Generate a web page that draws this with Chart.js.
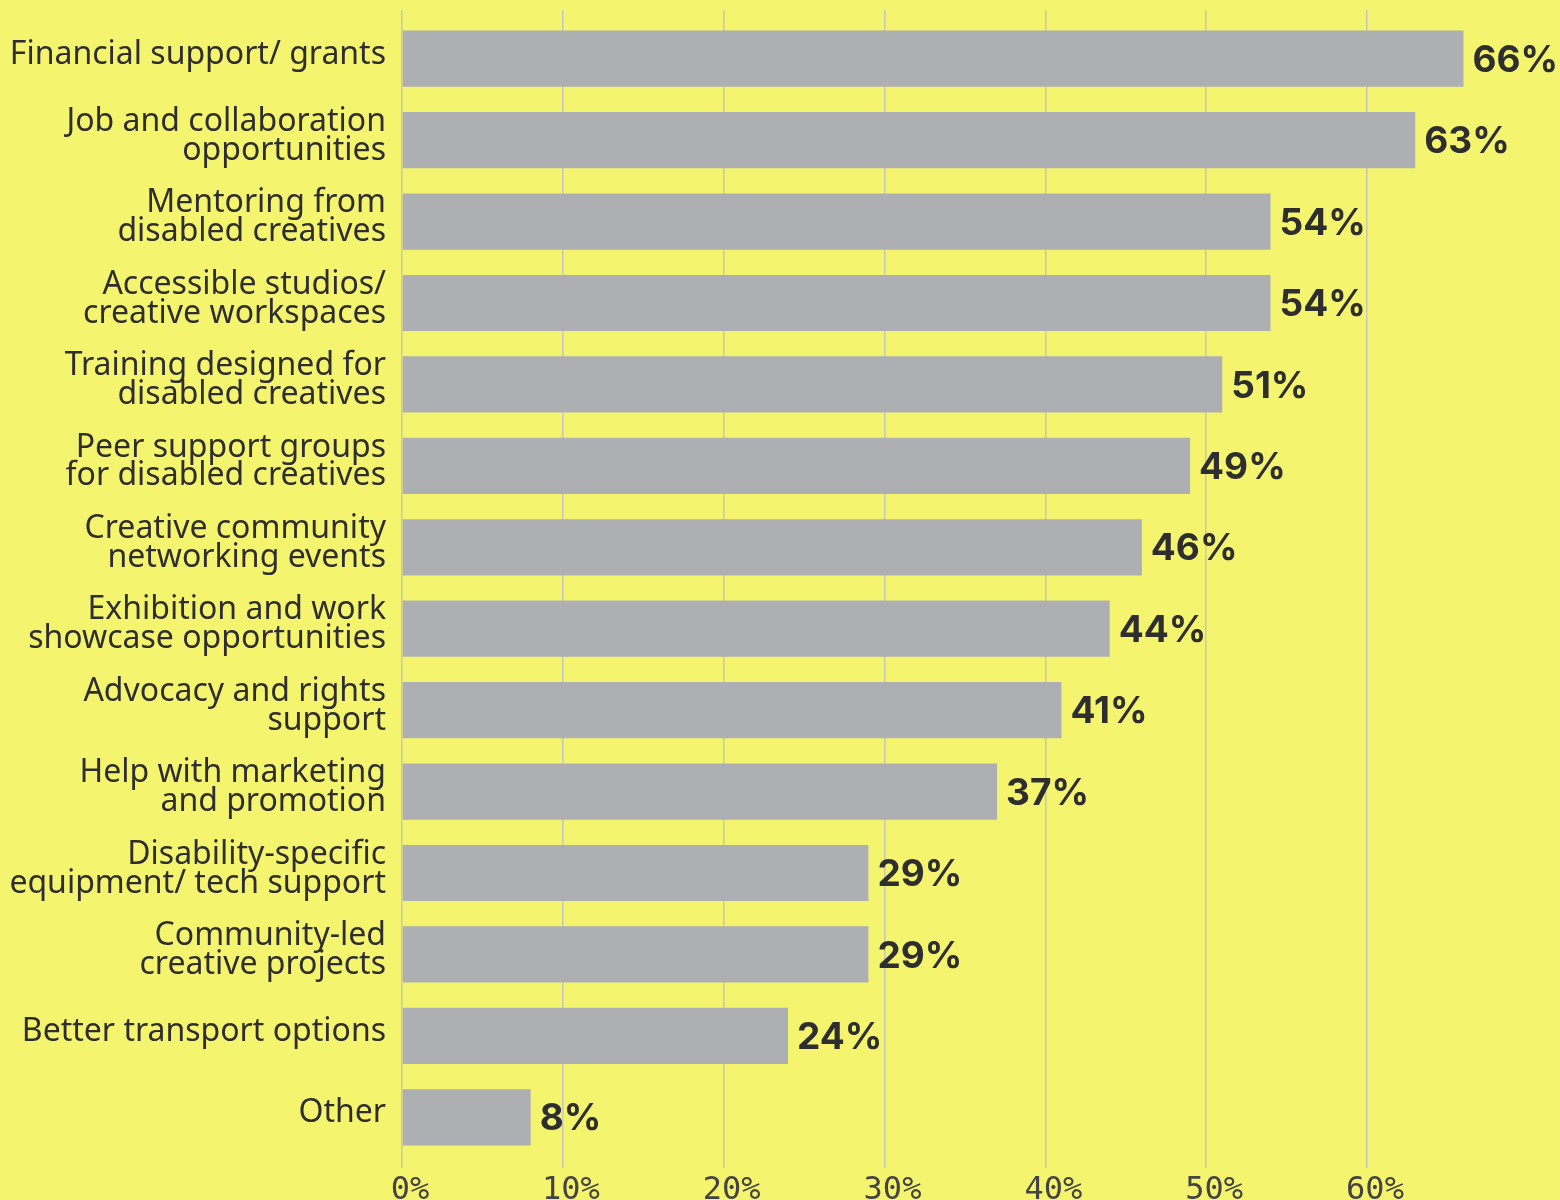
<!DOCTYPE html>
<html>
<head>
<meta charset="utf-8">
<script src="https://cdn.jsdelivr.net/npm/chart.js@4/dist/chart.umd.min.js"></script>
<style>
	html, body { margin: 0; padding: 0; background: #f4f46f; }
	#wrap { width: 1560px; height: 1200px; }
</style>
</head>
<body>
<div id="wrap"><canvas id="supportChart"></canvas></div>
<script>
// survey answers, share of respondents (%)
const categories = [
	"Financial support/ grants",
	["Job and collaboration", "opportunities"],
	["Mentoring from", "disabled creatives"],
	["Accessible studios/", "creative workspaces"],
	["Training designed for", "disabled creatives"],
	["Peer support groups", "for disabled creatives"],
	["Creative community", "networking events"],
	["Exhibition and work", "showcase opportunities"],
	["Advocacy and rights", "support"],
	["Help with marketing", "and promotion"],
	["Disability-specific", "equipment/ tech support"],
	["Community-led", "creative projects"],
	"Better transport options",
	"Other",
];
const values = [66, 63, 54, 54, 51, 49, 46, 44, 41, 37, 29, 29, 24, 8];
const tickValues = [0, 10, 20, 30, 40, 50, 60];

const textColor = "#2e2e2e";
const gridColor = "#c6c6bd";

// writes "66%" etc. just past the end of each bar
const valueLabels = {
	id: "valueLabels",
	afterDatasetsDraw(chart) {
		const ctx = chart.ctx;
		const meta = chart.getDatasetMeta(0);
		ctx.save();
		ctx.font = "bold 37px Inter, 'Noto Sans', sans-serif";
		ctx.fillStyle = textColor;
		ctx.textAlign = "left";
		ctx.textBaseline = "middle";
		meta.data.forEach((bar, i) => {
			ctx.fillText(values[i] + "%", bar.x + 9, bar.y + 2);
		});
		ctx.restore();
	},
};

const ctx = document.getElementById("supportChart").getContext("2d");
new Chart(ctx, {
	type: "bar",
	data: {
		labels: categories,
		datasets: [
			{
				data: values,
				backgroundColor: "#aeafb2",
				borderWidth: 0,
				barPercentage: 0.69,
				categoryPercentage: 1,
			},
		],
	},
	options: {
		indexAxis: "y",
		responsive: true,
		maintainAspectRatio: false,
		animation: false,
		layout: { padding: 0 },
		plugins: {
			legend: { display: false },
			tooltip: { enabled: false },
		},
		scales: {
			x: {
				position: "bottom",
				min: 0,
				max: 72,
				afterBuildTicks: (scale) => {
					scale.ticks = tickValues.map((v) => ({ value: v }));
				},
				afterFit: (scale) => { scale.height = 42; },
				border: { display: false },
				grid: {
					color: gridColor,
					lineWidth: 1.5,
					tickLength: 10,
					drawTicks: true,
				},
				ticks: {
					padding: 3,
					labelOffset: 8,
					color: "#444444",
					font: { family: "'DejaVu Sans Mono', monospace", size: 32 },
					callback: (v) => v + "%",
				},
			},
			xTop: {
				position: "top",
				min: 0,
				max: 72,
				afterBuildTicks: (scale) => {
					scale.ticks = tickValues.map((v) => ({ value: v }));
				},
				afterFit: (scale) => { scale.height = 18; },
				border: { display: false },
				grid: {
					color: gridColor,
					lineWidth: 1.5,
					tickLength: 8,
					drawOnChartArea: false,
				},
				ticks: { display: false },
			},
			y: {
				afterFit: (scale) => {
					scale.width = 402;
					scale.paddingTop = 0;
					scale.paddingBottom = 0;
				},
				border: { display: false },
				grid: { display: false, drawTicks: false },
				ticks: {
					padding: 16,
					labelOffset: -4,
					color: textColor,
					autoSkip: false,
					font: { family: "'Noto Sans', sans-serif", size: 32, lineHeight: 0.9 },
				},
			},
		},
	},
	plugins: [valueLabels],
});
</script>
</body>
</html>
